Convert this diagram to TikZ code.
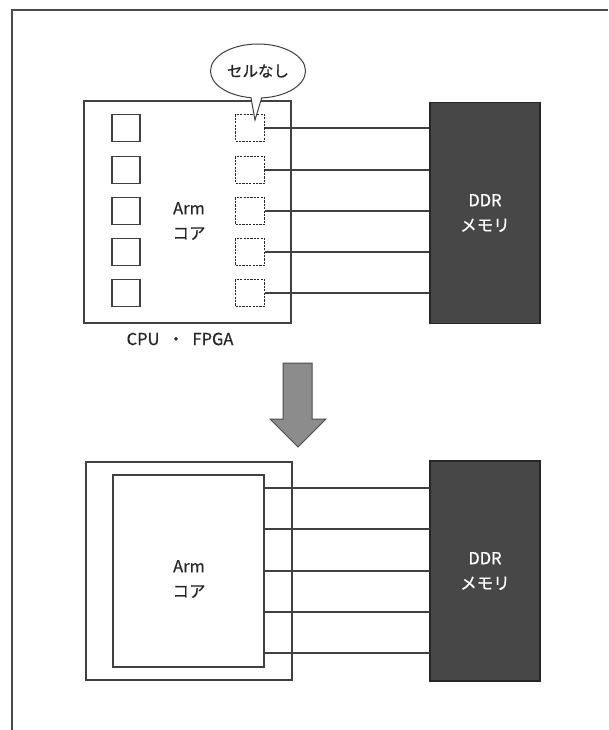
\documentclass[tikz,border=0pt]{standalone}
\usepackage{fontspec}
\setmainfont{Noto Sans CJK JP}[FakeBold=0.5]
\usetikzlibrary{shapes.callouts}

\tikzset{
  frame/.style={draw=black!70, line width=1.4pt},
  chip/.style={draw=black!75, line width=1.3pt, inner sep=0pt},
  cell/.style={chip, minimum width=28pt, minimum height=27pt},
  nocell/.style={cell, draw=black!85, line width=1.8pt, dash pattern=on 2.2pt off 1.2pt, minimum width=29pt},
  ddr/.style={draw=black!85, line width=1.2pt, fill=black!72, text=white,
    minimum width=110pt, inner sep=0pt, align=center, font=\fontsize{16.5}{25}\selectfont},
  wire/.style={draw=black!75, line width=1.2pt},
  lbl/.style={align=center, text=black!85, font=\fontsize{16.5}{25}\selectfont}
}

\begin{document}
\begin{tikzpicture}[x=1pt,y=-1pt]
      \useasboundingbox (0,0) rectangle (608,730);
      \draw[frame] (12,730) -- (12,10) -- (608,10);
      % before
      \draw
        (187.5,212) node[chip, minimum width=207pt, minimum height=222pt] (cpuA){}
        (189,221) node[lbl] (armA){Arm\\コア}
        (180,339) node[lbl] (name){CPU\enspace ・\enspace FPGA}
        (126,128) node[cell] (l1){}
        (126,170) node[cell] (l2){}
        (126,211) node[cell] (l3){}
        (126,252) node[cell] (l4){}
        (126,293) node[cell] (l5){}
        (250,128) node[nocell] (c1){}
        (250,170) node[nocell] (c2){}
        (250,211) node[nocell] (c3){}
        (250,252) node[nocell] (c4){}
        (250,293) node[nocell] (c5){}
        (485,213) node[ddr, minimum height=221pt] (ddrA){DDR\\メモリ};
      \node[ellipse callout, draw=black!75, line width=1pt, fill=white, inner sep=0pt,
        minimum width=95pt, minimum height=54pt, callout pointer arc=13,
        callout absolute pointer={(255,120)}, text=black!85, font=\fontsize{15.5}{18}\selectfont]
        (note) at (258,71) {セルなし};
      \begin{scope}[wire]
        \draw (c1.east) to (c1.east -| ddrA.west);
        \draw (c2.east) to (c2.east -| ddrA.west);
        \draw (c3.east) to (c3.east -| ddrA.west);
        \draw (c4.east) to (c4.east -| ddrA.west);
        \draw (c5.east) to (c5.east -| ddrA.west);
      \end{scope}
      % arrow
      \draw[fill=black!45, draw=black!70, line width=1pt]
        (283,363) -- (312,363) -- (312,419) -- (326,419) -- (298,447)
        -- (270,419) -- (283,419) -- cycle;
      % after
      \draw
        (189,571) node[chip, minimum width=206pt, minimum height=218pt] (cpuB){}
        (188.5,571) node[chip, minimum width=151pt, minimum height=192pt] (armB){}
        (189,579) node[lbl] (armtext){Arm\\コア}
        (485,571) node[ddr, minimum height=220pt] (ddrB){DDR\\メモリ};
      \coordinate (w1) at (430,488);
      \coordinate (w2) at (430,529);
      \coordinate (w3) at (430,571);
      \coordinate (w4) at (430,612);
      \coordinate (w5) at (430,653);
      \begin{scope}[wire]
        \draw (w1 -| armB.east) to (w1);
        \draw (w2 -| armB.east) to (w2);
        \draw (w3 -| armB.east) to (w3);
        \draw (w4 -| armB.east) to (w4);
        \draw (w5 -| armB.east) to (w5);
      \end{scope}
    \end{tikzpicture}
\end{document}
